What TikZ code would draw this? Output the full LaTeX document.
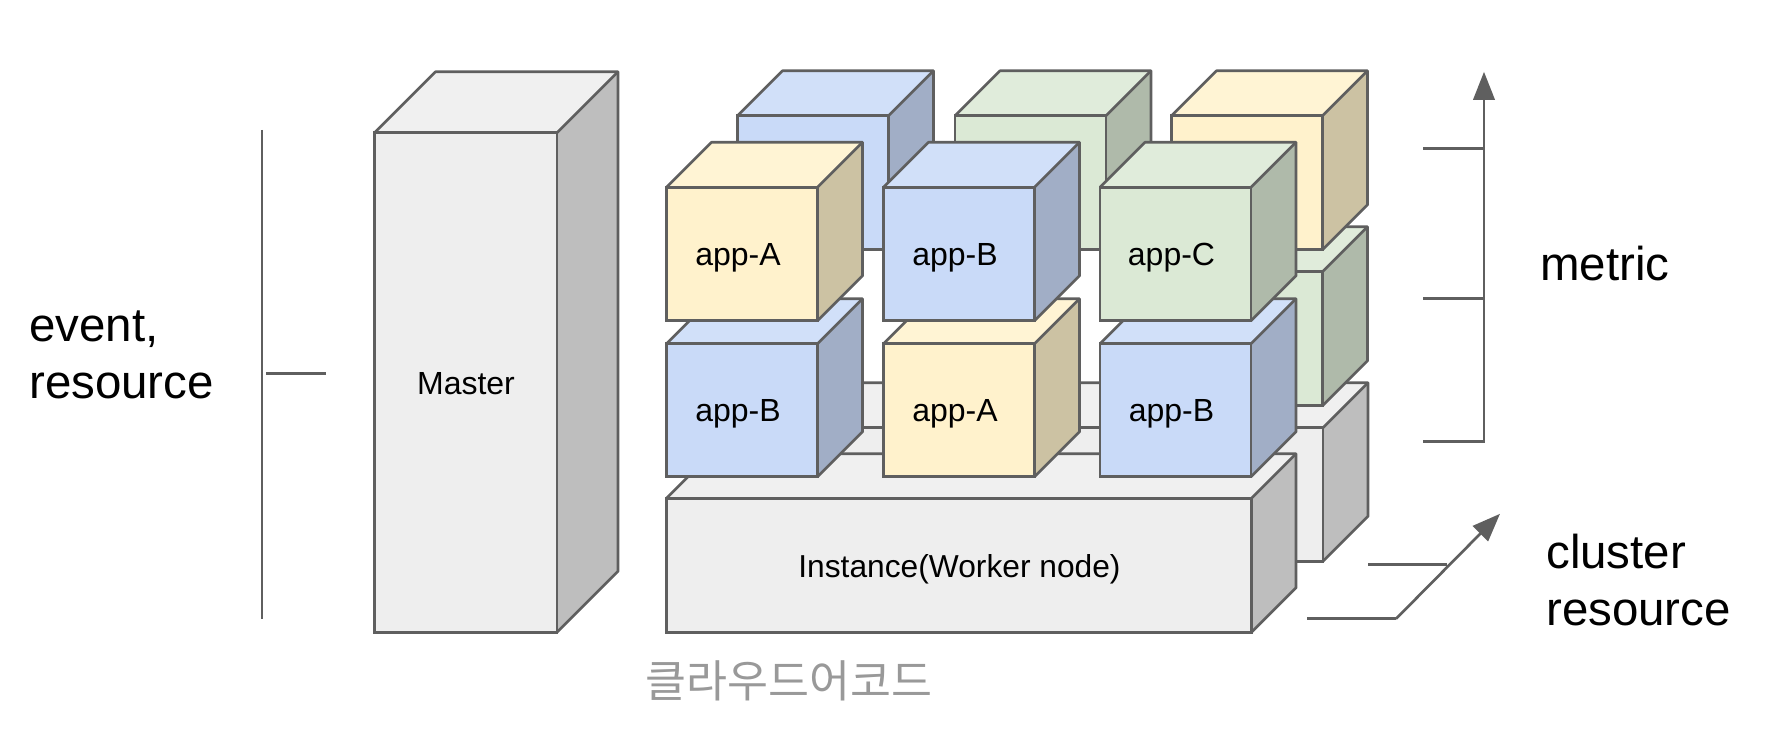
\documentclass[tikz,border=0pt]{standalone}
\usepackage{fontspec}
\setmainfont{Liberation Sans}
\newfontfamily\krfont{Noto Sans CJK KR}
\usetikzlibrary{arrows.meta}
\definecolor{edgegray}{HTML}{5F5F5F}
\definecolor{appblue}{HTML}{C9DAF8}
\definecolor{appyellow}{HTML}{FFF2CC}
\definecolor{appgreen}{HTML}{DBE9D5}
\definecolor{hostgray}{HTML}{EEEEEE}
\definecolor{markgray}{HTML}{999999}
% name, x, y, width, height, depth, colour, label
\newcommand{\boxcube}[8]{
    \fill[#7!85!white] (#2,#3) -- ++(#6,-#6) -- ++(#4,0) -- ++(-#6,#6) -- cycle;
    \fill[#7!80!black] (#2+#4,#3) -- ++(#6,-#6) -- ++(0,#5) -- ++(-#6,#6) -- cycle;
    \node[face, fill=#7, minimum width=#4*0.75pt, minimum height=#5*0.75pt] (#1) at (#2+#4/2,#3+#5/2) {};
    \draw[edge] (#2,#3) -- ++(#6,-#6) -- ++(#4,0) -- ++(0,#5) -- ++(-#6,#6);
    \draw[edge] (#2+#4,#3) -- ++(#6,-#6);
    \node[label] (#1-text) at (#2+#4/2-4,#3+#5/2+4) {#8};
}
\begin{document}
\begin{tikzpicture}[
    x=0.75pt, y=-0.75pt,
    edge/.style={draw=edgegray, line width=2pt, line join=round},
    face/.style={rectangle, draw=edgegray, line width=2pt, inner sep=0pt, outer sep=0pt},
    label/.style={font=\fontsize{24}{29}\selectfont, text=black, inner sep=0pt},
    bigtext/.style={font=\fontsize{35.6}{42.5}\selectfont, align=left, anchor=west, inner sep=0pt},
    bar/.style={draw=edgegray, line width=2pt},
    arrow/.style={bar, -{Triangle[length=21pt, width=16pt]}}
]
\useasboundingbox (0,-0.8) rectangle (1768,753.2);

% Master
\boxcube{master}{374.5}{132}{182.5}{499.5}{61}{hostgray}{}
\node[label] (mastertext) at (466,382.5) {Master};

% Back instance
\boxcube{hostback}{737.5}{427}{585.5}{133.5}{45}{hostgray}{}

% Back apps
\boxcube{backd}{1171.5}{271}{151}{134}{45}{appgreen}{}
\boxcube{backa}{737.5}{115}{151}{134}{45}{appblue}{}
\boxcube{backb}{955}{115}{151}{134}{45}{appgreen}{}
\boxcube{backc}{1171.5}{115}{151}{134}{45}{appyellow}{}

% Front instance
\boxcube{hostfront}{666.5}{497.5}{585}{134}{44.5}{hostgray}{}
\node[label, font=\fontsize{23.8}{29}\selectfont] (hosttext) at (959.5,568) {Instance(Worker node)};

% Front apps
\boxcube{appd}{666.5}{343}{151}{133}{45}{appblue}{app-B}
\boxcube{appe}{883.5}{343}{151}{133}{45}{appyellow}{app-A}
\boxcube{appf}{1100}{343}{151}{133}{45}{appblue}{app-B}
\boxcube{appa}{666.5}{186.5}{151}{133.5}{45}{appyellow}{app-A}
\boxcube{appb}{883.5}{186.5}{151}{133.5}{45}{appblue}{app-B}
\boxcube{appc}{1100}{186.5}{151}{133.5}{45}{appgreen}{app-C}

% Event bracket
\coordinate (eventtop) at (262,129);
\coordinate (eventbot) at (262,618);
\coordinate (eventl) at (266,373);
\coordinate (eventr) at (326,373);
\draw[bar] (eventtop) -- (eventbot);
\draw[bar] (eventl) -- (eventr);
\node[bigtext] (eventtext) at (29,354) {event,\\resource};

% Metric axis
\coordinate (metriclow) at (1423,441);
\coordinate (metricmid) at (1423,298);
\coordinate (metrichigh) at (1423,148);
\coordinate (metrictip) at (1484,71);
\draw[arrow] (metriclow) -| (metrictip);
\draw[bar] (metricmid) -- (metricmid -| metrictip);
\draw[bar] (metrichigh) -- (metrichigh -| metrictip);
\node[bigtext] (metrictext) at (1540,262.5) {metric};

% Cluster axis
\coordinate (clusterlow) at (1307,618);
\coordinate (clusterbend) at (1396,618);
\coordinate (clustertip) at (1500,513);
\coordinate (clustermid) at (1368,564);
\coordinate (clustercross) at (1447,564);
\draw[bar] (clusterlow) -- (clusterbend);
\draw[arrow] (clusterbend) -- (clustertip);
\draw[bar] (clustermid) -- (clustercross);
\node[bigtext] (clustertext) at (1546,579.5) {cluster\\resource};

% Watermark
\node[font=\krfont\fontsize{33.4}{40}\selectfont, text=markgray, inner sep=0pt] (watermark) at (789,680) {클라우드어코드};
\end{tikzpicture}
\end{document}
